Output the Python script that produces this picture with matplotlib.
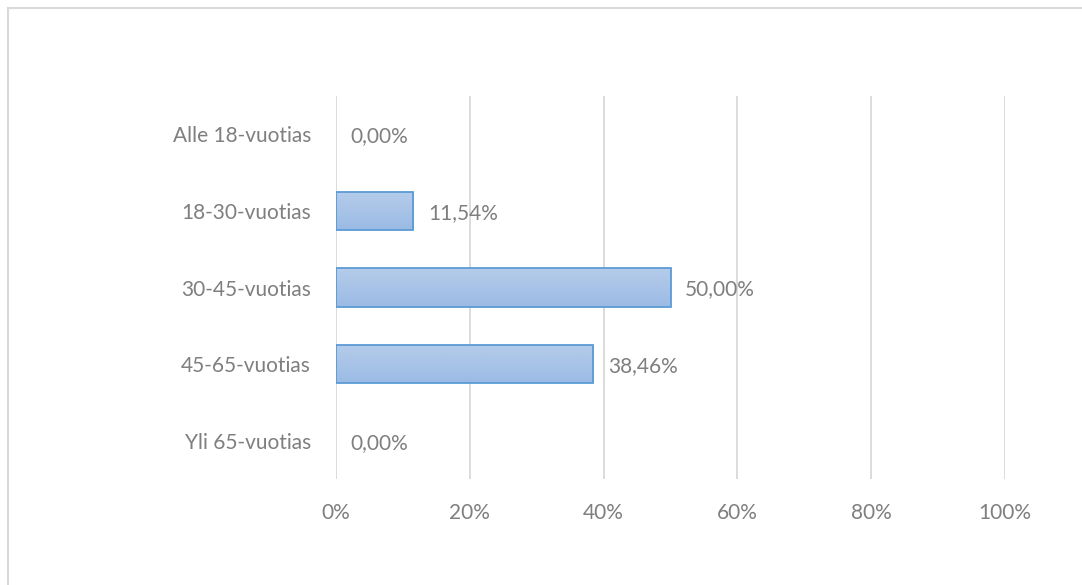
import matplotlib
matplotlib.use('agg')
import matplotlib.pyplot as plt
import numpy as np
from matplotlib.lines import Line2D

# data
categories = ['Alle 18-vuotias', '18-30-vuotias', '30-45-vuotias', '45-65-vuotias', 'Yli 65-vuotias']
values = [0.0, 11.54, 50.0, 38.46, 0.0]
xticks = [0, 20, 40, 60, 80, 100]

text_color = '#7f7f7f'
grid_color = '#d9d9d9'
edge_color = '#5b9bd5'

plt.rcParams['font.family'] = ['Lato', 'DejaVu Sans']

fig = plt.figure(figsize=(10.82, 5.85), dpi=100)
ax = fig.add_axes([336 / 1082, 1 - 479 / 585, (1005 - 336) / 1082, (479 - 96) / 585])

ypos = np.arange(len(categories))
edges = [edge_color if v > 0 else 'none' for v in values]
bars = ax.barh(ypos, values, height=0.5, color='none', edgecolor=edges, linewidth=1.3, zorder=3)

# gradient fill (lighter at top)
grad = np.linspace(0, 1, 256).reshape(-1, 1)
cmap = matplotlib.colors.LinearSegmentedColormap.from_list('g', ['#b5ccea', '#9bbbe5'])
for b in bars:
    if b.get_width() <= 0:
        continue
    x0, y0 = b.get_x(), b.get_y()
    w, h = b.get_width(), b.get_height()
    im = ax.imshow(grad, cmap=cmap, aspect='auto', extent=(x0, x0 + w, y0 + h, y0),
                   origin='upper', zorder=2)
    im.set_clip_path(b)

# data labels
for y, v in zip(ypos, values):
    ax.annotate(f'{v:.2f}%'.replace('.', ','), (v, y), xytext=(10.5, -1.5), textcoords='offset points',
                va='center', ha='left', fontsize=15, color=text_color)

ax.set_xlim(0, 100)
ax.set_ylim(len(categories) - 0.5, -0.5)
ax.set_xticks(xticks)
ax.set_xticklabels([f'{t}%' for t in xticks])
ax.set_yticks(ypos)
ax.set_yticklabels(categories)
ax.tick_params(axis='both', length=0, colors=text_color, labelsize=15)
ax.tick_params(axis='y', pad=18)
ax.tick_params(axis='x', pad=17)
ax.grid(axis='x', color=grid_color, lw=1.3, zorder=0)
ax.set_axisbelow(True)
for s in ax.spines.values():
    s.set_visible(False)

# outer chart border (top and left visible)
fig.add_artist(Line2D([7.5 / 1082, 1], [1 - 7.5 / 585, 1 - 7.5 / 585], color=grid_color, lw=1.5))
fig.add_artist(Line2D([7.5 / 1082, 7.5 / 1082], [0, 1 - 7.5 / 585], color=grid_color, lw=1.5))

fig.savefig('out.png', dpi=100, facecolor='white')
